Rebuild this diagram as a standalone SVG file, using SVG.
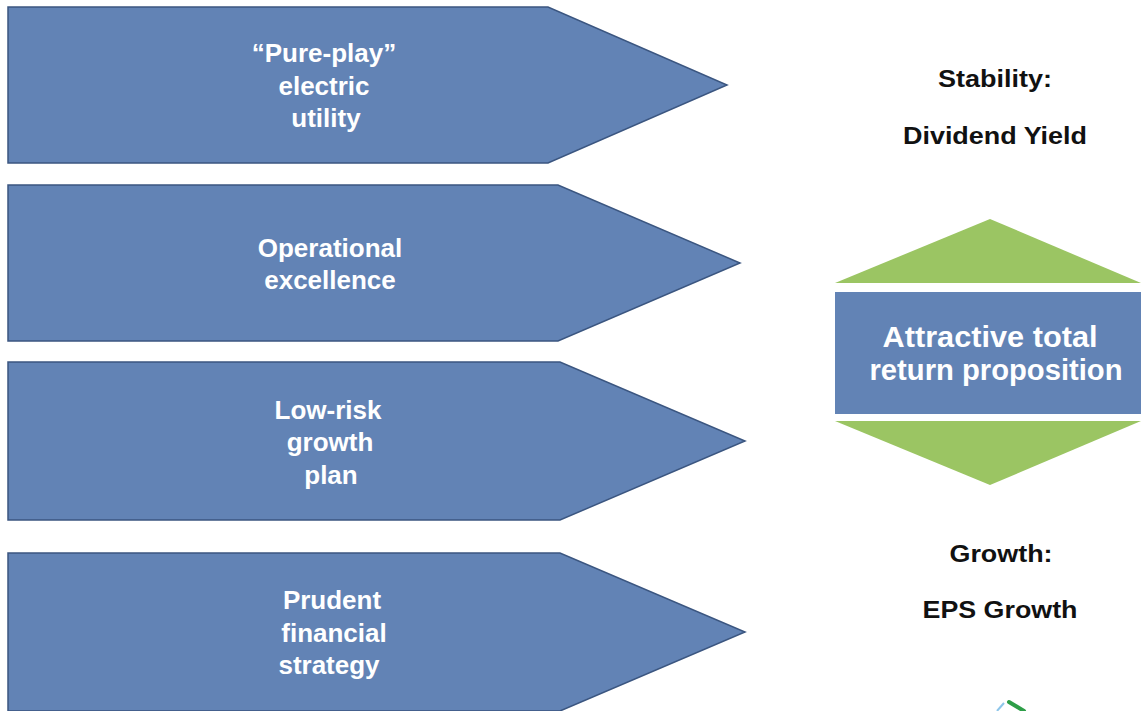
<svg xmlns="http://www.w3.org/2000/svg" width="1141" height="711" viewBox="0 0 1141 711">
<style>
.arrow{fill:#6283b5;stroke:#3b5680;stroke-width:1.5;stroke-linejoin:miter}
.wt{font-family:"Liberation Sans",Arial,sans-serif;font-weight:bold;fill:#ffffff;text-anchor:middle}
.lbl{font-family:"Liberation Sans",Arial,sans-serif;font-weight:bold;fill:#111111;text-anchor:middle;font-size:24px}
.green{fill:#9bc563}
.blue{fill:#6283b5}
</style>
<rect width="1141" height="711" fill="#ffffff"/>
<g id="arrow1">
<polygon class="arrow" points="8,7 548,7 727,85 548,163 8,163"/>
<text class="wt" font-size="26"><tspan x="324" y="62">“Pure-play”</tspan><tspan x="324" y="95">electric</tspan><tspan x="326" y="127">utility</tspan></text>
</g>
<g id="arrow2">
<polygon class="arrow" points="8,185 558,185 740,263 558,341 8,341"/>
<text class="wt" font-size="26"><tspan x="330" y="257">Operational</tspan><tspan x="330" y="289">excellence</tspan></text>
</g>
<g id="arrow3">
<polygon class="arrow" points="8,362 560,362 745,441 560,520 8,520"/>
<text class="wt" font-size="26"><tspan x="328" y="419">Low-risk</tspan><tspan x="330" y="451">growth</tspan><tspan x="331" y="484">plan</tspan></text>
</g>
<g id="arrow4">
<polygon class="arrow" points="8,553 560,553 745,632 560,711 8,711"/>
<text class="wt" font-size="26"><tspan x="332" y="609">Prudent</tspan><tspan x="334" y="642">financial</tspan><tspan x="329" y="674">strategy</tspan></text>
</g>
<g id="stability">
<text class="lbl" x="995" y="87" textLength="114" lengthAdjust="spacingAndGlyphs">Stability:</text>
<text class="lbl" x="995" y="144" textLength="184" lengthAdjust="spacingAndGlyphs">Dividend Yield</text>
</g>
<g id="hexagon">
<polygon class="green" points="835,283 990,219 1141,283"/>
<rect class="blue" x="835" y="292" width="306" height="122"/>
<polygon class="green" points="835,421 1141,421 990,485"/>
<text class="wt" font-size="29"><tspan x="990" y="347" textLength="215" lengthAdjust="spacingAndGlyphs">Attractive total</tspan><tspan x="996" y="380" textLength="253" lengthAdjust="spacingAndGlyphs">return proposition</tspan></text>
</g>
<g id="growth">
<text class="lbl" x="1001" y="562" textLength="103" lengthAdjust="spacingAndGlyphs">Growth:</text>
<text class="lbl" x="1000" y="618" textLength="155" lengthAdjust="spacingAndGlyphs">EPS Growth</text>
</g>
<g id="connectors"></g>
<g id="logo">
<line x1="1009" y1="702" x2="1024" y2="711" stroke="#2e9e48" stroke-width="4" stroke-linecap="round"/>
<line x1="1004" y1="703" x2="997" y2="711" stroke="#8ec6ea" stroke-width="2"/>
</g>
</svg>
